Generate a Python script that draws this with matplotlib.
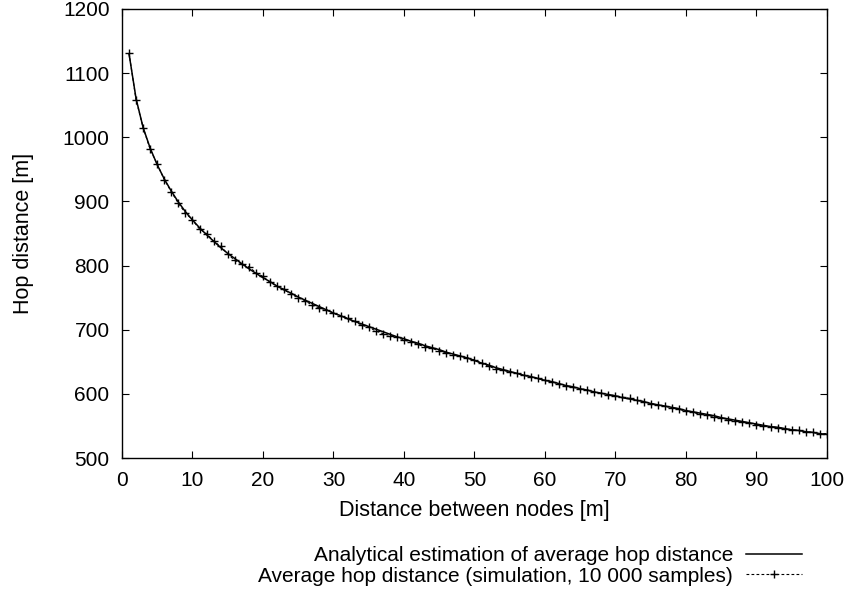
import numpy as np
import matplotlib
matplotlib.use("Agg")
from matplotlib import pyplot as plt

plt.rcParams['font.family'] = ['Liberation Sans', 'DejaVu Sans']

# distance between nodes [m]
dist = np.arange(1, 101)

# analytical estimate of average hop distance [m]
hop_analytical = [
    1130, 1060, 1015, 983, 957, 935, 916, 899, 884, 871,
    859, 848, 838, 828, 819, 811, 803, 795, 788, 781,
    775, 768, 762, 757, 751, 746, 741, 736, 731, 726,
    722, 717, 713, 709, 705, 701, 697, 693, 689, 686,
    682, 679, 675, 672, 669, 665, 662, 659, 656, 652,
    648, 645, 641, 638, 635, 632, 629, 627, 624, 621,
    619, 616, 613, 611, 608, 606, 603, 601, 599, 597,
    594, 592, 590, 588, 585, 583, 581, 579, 577, 574,
    572, 570, 568, 566, 563, 561, 559, 557, 555, 553,
    551, 549, 548, 546, 544, 543, 541, 540, 538, 537,
]

# simulated average hop distance, 10 000 samples [m]
hop_simulated = [
    1131, 1058, 1015, 981, 958, 934, 915, 897, 882, 871,
    857, 850, 838, 830, 818, 808, 802, 798, 789, 783,
    774, 768, 763, 755, 750, 745, 738, 734, 731, 726,
    721, 718, 713, 707, 704, 698, 694, 691, 688, 684,
    681, 677, 673, 671, 667, 664, 661, 659, 656, 653,
    648, 643, 639, 637, 634, 632, 629, 627, 624, 621,
    619, 615, 612, 610, 608, 606, 603, 601, 599, 597,
    595, 593, 590, 588, 585, 583, 581, 578, 576, 573,
    571, 568, 567, 564, 562, 560, 558, 556, 554, 552,
    550, 549, 547, 546, 544, 543, 541, 540, 538, 538,
]

fig = plt.figure(figsize=(8.49, 5.96), dpi=100)
ax = fig.add_axes([0.1437, 0.2315, 0.8303, 0.7534])

ax.plot(dist, hop_analytical, color='black', lw=1.1,
        label='Analytical estimation of average hop distance')
ax.plot(dist, hop_simulated, color='black', lw=0.8, ls=(0, (2.5, 2)),
        marker='+', ms=6, mew=1,
        label='Average hop distance (simulation, 10 000 samples)')

ax.set_xlim(0, 100)
ax.set_ylim(500, 1200)
ax.set_xticks(np.arange(0, 101, 10))
ax.set_yticks(np.arange(500, 1201, 100))
ax.tick_params(direction='in', length=5, width=0.8, top=True, right=True,
               labelsize=15)
ax.tick_params(axis='x', pad=9)
ax.tick_params(axis='y', pad=9)
for s in ax.spines.values():
    s.set_linewidth(1.0)

ax.set_xlabel('Distance between nodes [m]', fontsize=15.5)
ax.set_ylabel('Hop distance [m]', fontsize=15.5)
ax.xaxis.set_label_coords(0.5, -0.093)
ax.yaxis.set_label_coords(-0.125, 0.5)

fig.legend(loc='upper right', bbox_to_anchor=(802 / 849, 1 - 546 / 596),
           frameon=False, fontsize=15, markerfirst=False, alignment='right',
           handlelength=2.7, handletextpad=0.6, labelspacing=0.08,
           borderpad=0, borderaxespad=0, numpoints=1)

fig.savefig('out.png', dpi=100)
